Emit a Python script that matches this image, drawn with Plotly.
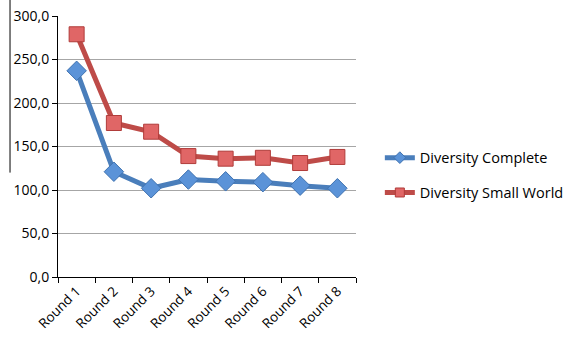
import plotly.graph_objects as go

rounds = ["Round 1", "Round 2", "Round 3", "Round 4", "Round 5", "Round 6", "Round 7", "Round 8"]
diversity_complete = [237, 121, 102, 112, 110, 109, 105, 102]
diversity_small_world = [279, 177, 167, 139, 136, 137, 131, 138]

series = [
    ("Diversity Complete", diversity_complete, "#4a7ebb", "#5b93d8", "#3f72b0", "diamond"),
    ("Diversity Small World", diversity_small_world, "#be4b48", "#e06666", "#b03c3a", "square"),
]

fig = go.Figure()
for i, (name, values, line_c, fill_c, edge_c, sym) in enumerate(series):
    fig.add_trace(go.Scatter(
        x=rounds, y=values, name=name, mode="lines+markers", showlegend=False,
        line=dict(color=line_c, width=5),
        marker=dict(symbol=sym, size=15, color=fill_c, line=dict(color=edge_c, width=1)),
    ))
    # legend entry with a smaller marker
    fig.add_trace(go.Scatter(
        x=[None], y=[None], name=name, mode="lines+markers", legendgroup=f"g{i}",
        line=dict(color=line_c, width=5),
        marker=dict(symbol=sym, size=9, color=fill_c, line=dict(color=edge_c, width=1)),
    ))

# stray frame line at the left edge
fig.add_shape(type="line", xref="paper", yref="paper",
              x0=-0.161, x1=-0.161, y0=0.40, y1=1.07,
              line=dict(color="black", width=1))

fig.update_layout(
    width=566, height=342,
    margin=dict(l=58, r=210, t=16, b=65, autoexpand=False),
    paper_bgcolor="white", plot_bgcolor="white",
    separators=",.",
    font=dict(family="Open Sans, Liberation Sans, Arial, sans-serif", size=13, color="black"),
    showlegend=True,
    legend=dict(x=1.08, y=0.39, xanchor="left", yanchor="middle",
                tracegroupgap=13, font=dict(size=14.5), bgcolor="rgba(0,0,0,0)"),
    xaxis=dict(
        type="category", range=[-0.5, 7.5], automargin=False,
        showline=True, linecolor="black", linewidth=1,
        ticks="outside", tickson="boundaries", ticklen=5, tickcolor="black",
        tickangle=-45, showgrid=False, zeroline=False,
        tickfont=dict(size=13.5),
    ),
    yaxis=dict(
        range=[0, 300], dtick=50, tickformat=".1f", automargin=False,
        showline=True, linecolor="black", linewidth=1,
        ticks="outside", ticklen=5, tickcolor="black",
        showgrid=True, gridcolor="#a6a6a6", gridwidth=1, zeroline=False,
        tickfont=dict(size=14),
    ),
)

fig.write_html("out.html")
